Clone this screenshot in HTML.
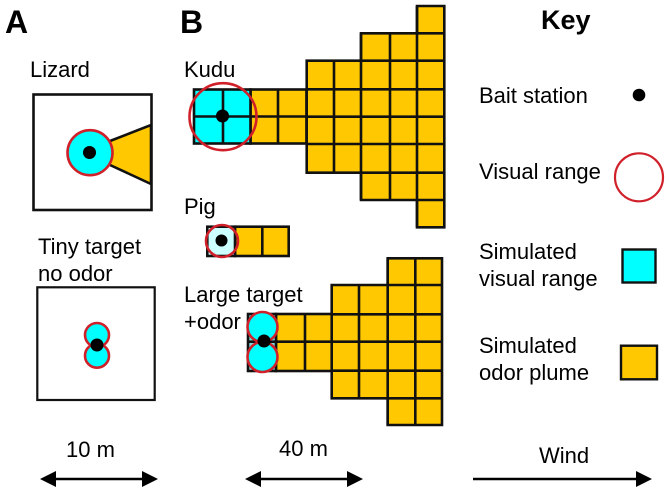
<!DOCTYPE html>
<html>
<head>
<meta charset="utf-8">
<style>
html,body{margin:0;padding:0;background:#fff}
svg{display:block}
text{font-family:"Liberation Sans",Arial,sans-serif;font-size:22px;fill:#000}
.y{fill:#ffc800;stroke:#111;stroke-width:2.6}
.l{stroke:#111;stroke-width:2.6;fill:none}
.r{stroke:#d0202a;stroke-width:2.6}
.a{stroke:#000;stroke-width:2.6;fill:none}
</style>
</head>
<body>
<svg width="670" height="494" viewBox="0 0 670 494" xmlns="http://www.w3.org/2000/svg">
<rect width="670" height="494" fill="#fff"/>

<text x="5" y="33" style="font-size:32px;font-weight:bold">A</text>
<text x="180" y="33" style="font-size:32px;font-weight:bold">B</text>
<text x="541" y="29" style="font-size:27px;font-weight:bold">Key</text>

<!-- Lizard -->
<text x="30" y="77">Lizard</text>
<rect x="33.5" y="94.5" width="118" height="115.5" fill="#fff" stroke="#111" stroke-width="2.6"/>
<polygon points="108,142 151,125 151,184 108,165" fill="#ffc800"/>
<path d="M110,141 L151,125 L151,184 L110,165" class="l"/>
<circle cx="90" cy="152.7" r="22.5" fill="#00ffff" class="r"/>
<circle cx="89.5" cy="152.5" r="6.5" fill="#000"/>

<!-- Tiny -->
<text x="38" y="254">Tiny target</text>
<text x="38" y="281">no odor</text>
<rect x="37.3" y="287.3" width="117.4" height="112.7" fill="#fff" stroke="#111" stroke-width="2.2"/>
<circle cx="97" cy="335" r="12" fill="#00ffff" class="r"/>
<circle cx="97" cy="355.7" r="12" fill="#00ffff" class="r"/>
<circle cx="97" cy="345" r="6.5" fill="#000"/>

<!-- Kudu -->
<text x="184" y="77">Kudu</text>
<rect class="y" x="250.5" y="89.5" width="56" height="54"/>
<path class="l" d="M278,89.5V143.5M250.5,116.5H306.5"/>
<path class="y" d="M306.7,60.7H361V33.3H417V6H444.3V227.3H417V200H361V172.7H306.7Z"/>
<path class="l" d="M334,60.7V172.7M361,33.3V200M390,33.3V200M417,6V227.3M417,33.3H444.3M361,60.7H444.3M306.7,89.3H444.3M306.7,116.7H444.3M306.7,144H444.3M361,172.7H444.3M417,200H444.3"/>
<rect x="194" y="89.5" width="56.5" height="54" fill="#00ffff" stroke="#111" stroke-width="2.6"/>
<path class="l" d="M223,89.5V143.5M194,116.5H250.5"/>
<circle cx="223" cy="116.7" r="33.5" fill="none" class="r"/>
<circle cx="222.5" cy="116" r="6.5" fill="#000"/>

<!-- Pig -->
<text x="184" y="214">Pig</text>
<rect class="y" x="235" y="226.7" width="53.7" height="29.3"/>
<path class="l" d="M262.3,226.7V256"/>
<rect x="207.3" y="226.7" width="27.7" height="29.3" fill="#ccffff" stroke="#111" stroke-width="2.6"/>
<circle cx="222" cy="241" r="16" fill="none" class="r"/>
<circle cx="221.5" cy="240.5" r="6" fill="#000"/>

<!-- Large target -->
<text x="184" y="302">Large target</text>
<text x="184" y="329">+odor</text>
<rect class="y" x="276" y="314" width="56" height="57"/>
<path class="l" d="M305,314V371M276,341.7H332"/>
<path class="y" d="M331.7,285H387.7V258.3H442V425H387.7V398.3H331.7Z"/>
<path class="l" d="M359,285V398.3M387.7,258.3V425M415.3,258.3V425M387.7,285H442M331.7,314.3H442M331.7,341.7H442M331.7,370.7H442M387.7,398.3H442"/>
<rect x="248" y="314" width="28" height="57" fill="#7fd8d8" stroke="#111" stroke-width="2.6"/>
<path class="l" d="M248,341.7H276"/>
<circle cx="262.5" cy="327" r="15" fill="#00ffff" class="r"/>
<circle cx="262.5" cy="357" r="15" fill="#00ffff" class="r"/>
<circle cx="264" cy="341" r="6.5" fill="#000"/>

<!-- Key -->
<text x="479" y="103">Bait station</text>
<circle cx="639" cy="95" r="6.3" fill="#000"/>
<text x="479" y="179">Visual range</text>
<circle cx="639" cy="177.3" r="24" fill="#fff" stroke="#d0202a" stroke-width="2.2"/>
<text x="479" y="259">Simulated</text>
<text x="479" y="286">visual range</text>
<rect x="622.5" y="249.5" width="33" height="33" fill="#00ffff" stroke="#111" stroke-width="2.4"/>
<text x="479" y="353">Simulated</text>
<text x="479" y="380">odor plume</text>
<rect x="621" y="345.7" width="36" height="33.6" fill="#ffc800" stroke="#111" stroke-width="2.4"/>

<!-- Scale -->
<text x="66" y="457">10 m</text>
<text x="279" y="456">40 m</text>
<text x="539" y="463">Wind</text>
<path class="a" d="M50,479H148M255,479H353M473,479H642"/>
<polygon points="40,479 56,471 56,487" fill="#000"/>
<polygon points="158,479 142,471 142,487" fill="#000"/>
<polygon points="245,479 261,471 261,487" fill="#000"/>
<polygon points="363,479 347,471 347,487" fill="#000"/>
<polygon points="652,479 636,471 636,487" fill="#000"/>
</svg>
</body>
</html>
